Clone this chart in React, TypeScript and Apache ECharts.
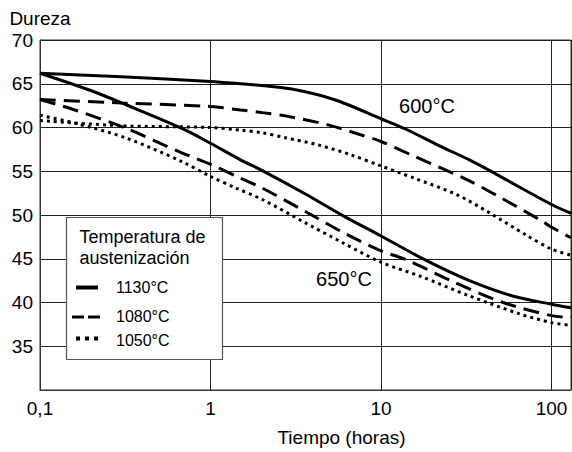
import React, { useEffect, useRef } from "react";
import * as echarts from "echarts";

// ---- data (time in hours, hardness) ----
const X_MIN = 0.1;
const X_MAX = 130;
const Y_MIN = 30;
const Y_MAX = 70;
const Y_STEP = 5;

const legendTitle = ["Temperatura de", "austenización"];
const legendNames = ["1130°C", "1080°C", "1050°C"];
const curveLabels = ["600°C", "650°C"];
const xAxisName = "Tiempo (horas)";
const yAxisName = "Dureza";

// 600 °C tempering
const t600_1130 = [0.1, 0.3, 1, 1.5, 2, 3, 5.3, 10, 14, 22, 33, 47, 100, 130];
const h600_1130 = [66.2, 65.8, 65.25, 65.0, 64.8, 64.4, 63.2, 61.0, 59.8, 57.9, 56.3, 54.7, 51.2, 50.2];

const t600_1080 = [0.1, 0.3, 1, 1.5, 2, 2.8, 4.9, 7.5, 10, 15.7, 33, 47, 88, 100, 130];
const h600_1080 = [63.2, 62.8, 62.4, 62.0, 61.7, 61.3, 60.3, 59.2, 58.4, 56.7, 53.9, 52.3, 49.3, 48.6, 47.4];

const t600_1050 = [0.1, 0.3, 1, 1.5, 2, 2.8, 4.3, 6.6, 10, 15.7, 28, 42, 71, 100, 130];
const h600_1050 = [60.8, 60.2, 60.0, 59.7, 59.4, 58.8, 58.0, 56.9, 55.6, 54.2, 52.3, 50.4, 47.7, 46.1, 45.4];

// 650 °C tempering
const t650_1130 = [0.1, 0.2, 0.32, 0.68, 1, 1.5, 2, 3.6, 6, 10, 18, 33, 59, 100, 130];
const h650_1130 = [66.2, 64.2, 62.6, 59.9, 58.2, 56.3, 55.1, 52.4, 49.9, 47.6, 44.9, 42.5, 40.75, 39.8, 39.4];

const t650_1080 = [0.1, 0.16, 0.32, 0.68, 1, 1.5, 2, 3.6, 6, 10, 14, 27, 52, 100, 130];
const h650_1080 = [63.2, 62.0, 59.9, 57.1, 55.8, 54.2, 53.1, 50.4, 48.0, 45.9, 44.9, 42.3, 40.0, 38.5, 38.3];

const t650_1050 = [0.1, 0.16, 0.32, 0.68, 1, 1.4, 2, 3.6, 6, 10, 17, 33, 65, 100, 130];
const h650_1050 = [61.4, 60.5, 58.8, 56.1, 54.4, 53.1, 51.8, 49.1, 46.8, 44.6, 43.0, 40.75, 38.7, 37.7, 37.4];

const FONT = '"Liberation Sans", Arial, Helvetica, sans-serif';

const pair = (t: number[], h: number[]) => t.map((x, i) => [x, h[i]]);

const solid = { type: "solid" as const, width: 3 };
const dashed = { type: [16, 8] as any, width: 3, cap: "butt" as const };
const dotted = { type: [3, 4] as any, width: 3, cap: "butt" as const };

export default function App() {
  const ref = useRef<HTMLDivElement>(null);

  useEffect(() => {
    if (!ref.current) return;
    const chart = echarts.init(ref.current, undefined, { renderer: "svg" });

    const mk = (name: string, t: number[], h: number[], ls: any) => ({
      name,
      type: "line",
      data: pair(t, h),
      showSymbol: false,
      symbol: "none",
      smooth: 0.3,
      lineStyle: { color: "#000", ...ls },
      z: 3,
    });

    const legendX = 66.5;
    const legendY = 217.5;

    chart.setOption({
      animation: false,
      backgroundColor: "#fff",
      grid: {
        left: 40,
        right: 1,
        top: 40,
        bottom: 61,
        show: true,
        borderColor: "#333",
        borderWidth: 1,
        containLabel: false,
      },
      xAxis: {
        type: "log",
        logBase: 10,
        min: X_MIN,
        max: X_MAX,
        name: xAxisName,
        nameLocation: "middle",
        nameGap: 38,
        nameTextStyle: {
          fontFamily: FONT,
          fontSize: 19,
          color: "#000",
          padding: [0, 0, 0, 72],
        },
        axisLine: { show: true, lineStyle: { color: "#333", width: 1 } },
        axisTick: { show: false },
        axisLabel: {
          fontFamily: FONT,
          fontSize: 19,
          color: "#000",
          margin: 9,
          showMaxLabel: false,
          formatter: (v: number) => {
            const l = Math.log10(v);
            const r = Math.round(l);
            if (Math.abs(l - r) > 1e-6) return "";
            if (r === -1) return "0,1";
            return String(Math.pow(10, r));
          },
        },
        splitLine: { show: true, lineStyle: { color: "#222", width: 1 } },
      },
      yAxis: {
        type: "value",
        min: Y_MIN,
        max: Y_MAX,
        interval: Y_STEP,
        name: yAxisName,
        nameLocation: "end",
        nameGap: 12,
        nameTextStyle: {
          fontFamily: FONT,
          fontSize: 19,
          color: "#000",
          align: "center",
        },
        axisLine: { show: true, lineStyle: { color: "#333", width: 1 } },
        axisTick: { show: false },
        axisLabel: {
          fontFamily: FONT,
          fontSize: 19,
          color: "#000",
          margin: 7,
          padding: [4, 0, 0, 0],
          formatter: (v: number) => (v === Y_MIN ? "" : String(v)),
        },
        splitLine: { show: true, lineStyle: { color: "#222", width: 1 } },
      },
      series: [
        mk("600°C " + legendNames[0], t600_1130, h600_1130, solid),
        mk("600°C " + legendNames[1], t600_1080, h600_1080, dashed),
        mk("600°C " + legendNames[2], t600_1050, h600_1050, dotted),
        mk("650°C " + legendNames[0], t650_1130, h650_1130, solid),
        mk("650°C " + legendNames[1], t650_1080, h650_1080, dashed),
        mk("650°C " + legendNames[2], t650_1050, h650_1050, dotted),
      ],
      graphic: [
        {
          type: "text",
          z: 50,
          x: 427,
          y: 106,
          style: {
            text: curveLabels[0],
            fontFamily: FONT,
            fontSize: 20,
            fill: "#000",
            align: "center",
            verticalAlign: "middle",
          },
        },
        {
          type: "text",
          z: 50,
          x: 344,
          y: 279,
          style: {
            text: curveLabels[1],
            fontFamily: FONT,
            fontSize: 20,
            fill: "#000",
            align: "center",
            verticalAlign: "middle",
          },
        },
        {
          type: "rect",
          z: 60,
          shape: { x: legendX, y: legendY, width: 156, height: 142 },
          style: { fill: "#fff", stroke: "#555", lineWidth: 1.2 },
        },
        {
          type: "text",
          z: 61,
          x: 79.5,
          y: 236.5,
          style: {
            text: legendTitle[0],
            fontFamily: FONT,
            fontSize: 18,
            fill: "#000",
            align: "left",
            verticalAlign: "middle",
          },
        },
        {
          type: "text",
          z: 61,
          x: 79.5,
          y: 257.5,
          style: {
            text: legendTitle[1],
            fontFamily: FONT,
            fontSize: 18,
            fill: "#000",
            align: "left",
            verticalAlign: "middle",
          },
        },
        {
          type: "line",
          z: 61,
          shape: { x1: 76, y1: 287.5, x2: 98, y2: 287.5 },
          style: { stroke: "#000", lineWidth: 4 },
        },
        {
          type: "line",
          z: 61,
          shape: { x1: 72, y1: 317, x2: 100, y2: 317 },
          style: { stroke: "#000", lineWidth: 3, lineDash: [12, 4] },
        },
        {
          type: "line",
          z: 61,
          shape: { x1: 76, y1: 338.5, x2: 98, y2: 338.5 },
          style: { stroke: "#000", lineWidth: 4, lineDash: [4, 5] },
        },
        ...legendNames.map((n, i) => ({
          type: "text",
          z: 61,
          x: 116,
          y: [287.5, 316.5, 340.5][i],
          style: {
            text: n,
            fontFamily: FONT,
            fontSize: 16,
            fill: "#000",
            align: "left",
            verticalAlign: "middle",
          },
        })),
      ],
    });

    return () => chart.dispose();
  }, []);

  return (
    <div
      ref={ref}
      style={{ position: "fixed", left: 0, top: 0, width: 572, height: 452 }}
    />
  );
}
